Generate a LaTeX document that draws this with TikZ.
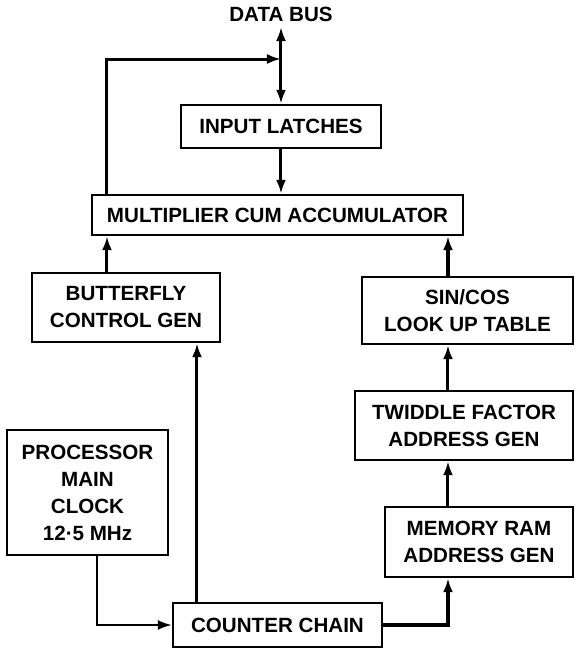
\documentclass[tikz,border=0pt]{standalone}
\usepackage{fontspec}
\setmainfont{Liberation Sans}
\usetikzlibrary{arrows.meta, positioning}

\begin{document}
\begin{tikzpicture}[x=0.5pt, y=-0.5pt, line width=1.5pt,
    >={Latex[length=7pt, width=5pt]},
    blk/.style={draw, line width=1.2pt, align=center, inner sep=0pt,
      font=\fontsize{10.3}{13.5}\selectfont\bfseries}]
    \useasboundingbox (0,0) rectangle (575,650);
    % blocks
    \node[blk, minimum width=100pt, minimum height=21.5pt] (latch) at (281,126.5) {INPUT LATCHES};
    \node[blk, minimum width=185.5pt, minimum height=20pt] (mac) at (277.5,215) {MULTIPLIER CUM ACCUMULATOR};
    \node[blk, minimum width=94pt, minimum height=34.5pt] (bfly) at (126,307.5) {BUTTERFLY\\CONTROL GEN};
    \node[blk, minimum width=105.5pt, minimum height=33.5pt] (sincos) at (467.5,310.5) {SIN/COS\\LOOK UP TABLE};
    \node[blk, minimum width=109pt, minimum height=34.5pt] (twid) at (464,425.5) {TWIDDLE FACTOR\\ADDRESS GEN};
    \node[blk, minimum width=94pt, minimum height=35pt] (mem) at (479,542) {MEMORY RAM\\ADDRESS GEN};
    \node[blk, minimum width=80.5pt, minimum height=62.5pt] (clk) at (87.5,492.5) {PROCESSOR\\MAIN\\CLOCK\\12·5 MHz};
    \node[blk, minimum width=104.5pt, minimum height=22pt] (cnt) at (277.5,625) {COUNTER CHAIN};

    % bus and columns
    \coordinate (bus) at (281,27);
    \coordinate (jn) at (281,59);
    \coordinate (lft) at (107,0);
    \coordinate (mid) at (197,0);
    \coordinate (rgt) at (448,0);
    \coordinate (ck) at (97,0);
    \node[inner sep=0pt, font=\fontsize{10.3}{12}\selectfont\bfseries, above=2pt of bus] (buslbl) {DATA BUS};

    \draw[<->] (latch.north) -- (bus);
    \draw[->] (mac.north -| lft) |- (jn);
    \draw[->] (latch.south) -- (latch.south |- mac.north);
    \draw[->] (bfly.north -| lft) -- (mac.south -| lft);
    \draw[->, line width=2pt] (sincos.north -| rgt) -- (mac.south -| rgt);
    \draw[->] (twid.north -| rgt) -- (sincos.south -| rgt);
    \draw[->] (mem.north -| rgt) -- (twid.south -| rgt);
    \draw[->, line width=2pt] (cnt.east) -| (mem.south -| rgt);
    \draw[->] (cnt.north -| mid) -- (bfly.south -| mid);
    \draw[->, line width=1pt] (clk.south -| ck) |- (cnt.west);
\end{tikzpicture}
\end{document}
